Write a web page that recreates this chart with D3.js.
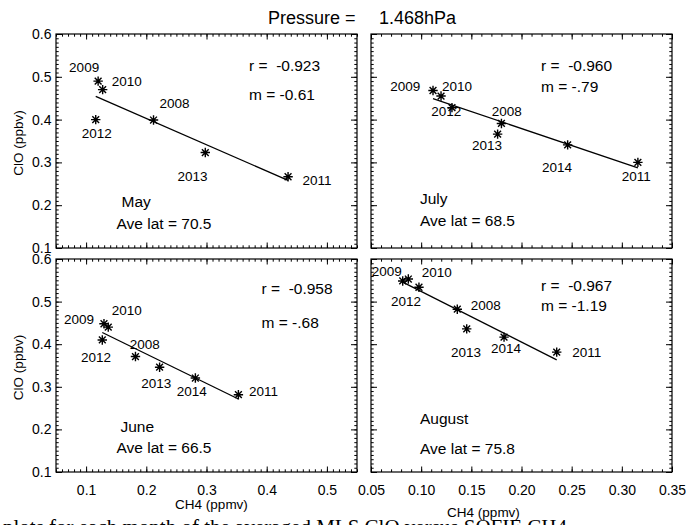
<!DOCTYPE html>
<html><head><meta charset="utf-8">
<script src="https://cdn.jsdelivr.net/npm/d3@7/dist/d3.min.js"></script>
<style>
body{margin:0;background:#fff;overflow:hidden}
svg{display:block}
text{font-family:"Liberation Sans",Arial,Helvetica,sans-serif;fill:#000}
</style>
</head><body>
<svg id="chart" width="686" height="525"></svg>
<script>
// ---------------- data ----------------
const years = ["2008","2009","2010","2011","2012","2013","2014"];

const mayCH4  = [0.212, 0.120, 0.1275, 0.4355, 0.116, 0.298, null];
const mayClO  = [0.399, 0.490, 0.470, 0.2665, 0.400, 0.323, null];

const julyCH4 = [0.180, 0.1118, 0.1198, 0.316, 0.1307, 0.1762, 0.246];
const julyClO = [0.391, 0.468, 0.455, 0.300, 0.428, 0.366, 0.341];

const juneCH4 = [0.182, 0.1297, 0.1368, 0.353, 0.1269, 0.2221, 0.2815];
const juneClO = [0.371, 0.448, 0.440, 0.2815, 0.410, 0.346, 0.3206];

const augCH4  = [0.136, 0.0816, 0.0872, 0.2351, 0.0978, 0.1454, 0.1826];
const augClO  = [0.4822, 0.5485, 0.553, 0.3815, 0.5337, 0.436, 0.4166];

const monthNames = ["May", "July", "June", "August"];
const rValues    = ["-0.923", "-0.960", "-0.958", "-0.967"];
const mValues    = ["-0.61", "-.79", "-.68", "-1.19"];
const aveLat     = ["70.5", "68.5", "66.5", "75.8"];

const yTicks       = [0.1, 0.2, 0.3, 0.4, 0.5, 0.6];
const xTicksLeft   = [0.1, 0.2, 0.3, 0.4, 0.5];
const xTicksRight  = [0.05, 0.10, 0.15, 0.20, 0.25, 0.30, 0.35];

const titleLeft  = "Pressure =";
const titleRight = "1.468hPa";
const yTitle = "ClO (ppbv)";
const xTitle = "CH4 (ppmv)";
const caption = "plots for each month of the averaged MLS ClO versus SOFIE CH4";

// ---------------- layout ----------------
const panels = [
  {ch4: mayCH4, clo: mayClO, xd: [0.05, 0.55], xt: xTicksLeft, xf: ".1f",
   box: [56, 357, 34, 248], yLab: true, xLab: false,
   rPos: [249, 70.5], mPos: [249, 99.5], monPos: [121.5, 207], latPos: [116.5, 229],
   off: [[21,-16.7],[-14,-13.4],[24,-8.3],[29,3],[1,13.3],[-12.7,23.4],[0,0]]},
  {ch4: julyCH4, clo: julyClO, xd: [0.05, 0.35], xt: xTicksRight, xf: ".2f",
   box: [371, 672, 34, 248], yLab: false, xLab: false,
   rPos: [541, 70.5], mPos: [541, 91.5], monPos: [420, 203.5], latPos: [420, 225.5],
   off: [[5.4,-12.3],[-27.7,-4],[16,-9.7],[-1.7,13.4],[-5.7,4],[-10.6,10.7],[-10.6,22.3]]},
  {ch4: juneCH4, clo: juneClO, xd: [0.05, 0.55], xt: xTicksLeft, xf: ".1f",
   box: [56, 357, 259, 472], yLab: true, xLab: true, xTitlePos: [211.5, 509],
   rPos: [261.5, 294], mPos: [261.5, 328], monPos: [120.5, 431.5], latPos: [116.5, 453],
   off: [[9.3,-12.4],[-25,-5],[18.4,-17.3],[25,-3.3],[-6.3,17.7],[-3.3,16],[-3.7,13.4]]},
  {ch4: augCH4, clo: augClO, xd: [0.05, 0.35], xt: xTicksRight, xf: ".2f",
   box: [371, 672, 259, 472], yLab: false, xLab: true, xTitlePos: [483.5, 517],
   rPos: [541, 290.5], mPos: [541, 310.5], monPos: [420, 424], latPos: [420, 454],
   off: [[28.4,-4.3],[-16,-9.3],[28.4,-7.3],[30,0.4],[-13,13.7],[-0.7,23.7],[2,11]]}
];

const svg = d3.select("#chart");

// partially visible caption below the figure (drawn first so chart text sits on top)
svg.append("text").attr("x", 3).attr("y", 534)
  .style("font-family", '"Liberation Serif","Times New Roman",serif').style("font-size", "21px")
  .text(caption);

// title
svg.append("text").attr("x", 268).attr("y", 24).style("font-size", "18px").text(titleLeft);
svg.append("text").attr("x", 379).attr("y", 24).style("font-size", "18px").text(titleRight);

function asterisk(g, cx, cy) {
  const s = 4.7, d = 3.4;
  const p = `M${cx-s},${cy}L${cx+s},${cy}M${cx},${cy-s}L${cx},${cy+s}` +
            `M${cx-d},${cy-d}L${cx+d},${cy+d}M${cx-d},${cy+d}L${cx+d},${cy-d}`;
  g.append("path").attr("d", p).attr("stroke", "#000").attr("stroke-width", 1.4).attr("fill", "none");
}

function minorRange(d0, d1) {
  return d3.range(Math.round(d0 * 100), Math.round(d1 * 100) + 1).map(v => v / 100);
}

panels.forEach((p, i) => {
  const [x0, x1, y0, y1] = p.box;
  const x = d3.scaleLinear().domain(p.xd).range([x0, x1]);
  const y = d3.scaleLinear().domain([0.1, 0.6]).range([y1, y0]);
  const g = svg.append("g");

  const majorLen = 5.5, minorLen = 2.7;
  const xMinor = minorRange(p.xd[0], p.xd[1]);
  const yMinor = minorRange(0.1, 0.6);

  function styleAxis(sel) {
    sel.select(".domain").remove();
    sel.selectAll("line").attr("stroke", "#000").attr("stroke-width", 1);
    sel.selectAll("text").style("font-family", '"Liberation Sans",Arial,sans-serif').attr("fill", "#000");
  }

  // minor ticks
  [[d3.axisBottom(x), y1], [d3.axisTop(x), y0]].forEach(([ax, ty]) => {
    g.append("g").attr("transform", `translate(0,${ty})`)
      .call(ax.tickValues(xMinor).tickSize(-minorLen).tickSizeOuter(0).tickFormat(""))
      .call(styleAxis);
  });
  [[d3.axisLeft(y), x0], [d3.axisRight(y), x1]].forEach(([ax, tx]) => {
    g.append("g").attr("transform", `translate(${tx},0)`)
      .call(ax.tickValues(yMinor).tickSize(-minorLen).tickSizeOuter(0).tickFormat(""))
      .call(styleAxis);
  });

  // major ticks with labels
  const bx = g.append("g").attr("transform", `translate(0,${y1})`)
    .call(d3.axisBottom(x).tickValues(p.xt).tickSize(-majorLen).tickSizeOuter(0)
      .tickPadding(13).tickFormat(p.xLab ? d3.format(p.xf) : ""))
    .call(styleAxis);
  bx.selectAll("text").style("font-size", "14px");
  g.append("g").attr("transform", `translate(0,${y0})`)
    .call(d3.axisTop(x).tickValues(p.xt).tickSize(-majorLen).tickSizeOuter(0).tickFormat(""))
    .call(styleAxis);
  const ly = g.append("g").attr("transform", `translate(${x0},0)`)
    .call(d3.axisLeft(y).tickValues(yTicks).tickSize(-6).tickSizeOuter(0)
      .tickPadding(4.5).tickFormat(p.yLab ? d3.format(".1f") : ""))
    .call(styleAxis);
  ly.selectAll("text").style("font-size", "14px");
  g.append("g").attr("transform", `translate(${x1},0)`)
    .call(d3.axisRight(y).tickValues(yTicks).tickSize(-6).tickSizeOuter(0).tickFormat(""))
    .call(styleAxis);

  // frame
  g.append("rect").attr("x", x0).attr("y", y0).attr("width", x1 - x0).attr("height", y1 - y0)
    .attr("fill", "none").attr("stroke", "#000").attr("stroke-width", 1.2);

  // data
  const pts = years.map((yr, j) => ({yr, cx: p.ch4[j], cy: p.clo[j], off: p.off[j]}))
    .filter(d => d.cx != null && d.cy != null);

  // least-squares fit line over the data range
  const mx = d3.mean(pts, d => d.cx), my = d3.mean(pts, d => d.cy);
  const sxy = d3.sum(pts, d => (d.cx - mx) * (d.cy - my));
  const sxx = d3.sum(pts, d => (d.cx - mx) ** 2);
  const slope = sxy / sxx, icpt = my - slope * mx;
  const [xa, xb] = d3.extent(pts, d => d.cx);
  g.append("line")
    .attr("x1", x(xa)).attr("y1", y(icpt + slope * xa))
    .attr("x2", x(xb)).attr("y2", y(icpt + slope * xb))
    .attr("stroke", "#000").attr("stroke-width", 1.3);

  pts.forEach(d => asterisk(g, x(d.cx), y(d.cy)));

  pts.forEach(d => {
    g.append("text").attr("x", x(d.cx) + d.off[0]).attr("y", y(d.cy) + d.off[1] + 4.8)
      .attr("text-anchor", "middle").style("font-size", "13.5px").text(d.yr);
  });

  const fs = "15.5px";
  g.append("text").attr("x", p.rPos[0]).attr("y", p.rPos[1]).style("font-size", fs)
    .attr("xml:space", "preserve").style("white-space", "pre").text("r =  " + rValues[i]);
  g.append("text").attr("x", p.mPos[0]).attr("y", p.mPos[1]).style("font-size", fs)
    .text("m = " + mValues[i]);
  g.append("text").attr("x", p.monPos[0]).attr("y", p.monPos[1]).style("font-size", fs)
    .text(monthNames[i]);
  g.append("text").attr("x", p.latPos[0]).attr("y", p.latPos[1]).style("font-size", fs)
    .text("Ave lat = " + aveLat[i]);

  if (p.yLab) {
    g.append("text").attr("transform", `translate(23,${(y0 + y1) / 2 + 2}) rotate(-90)`)
      .attr("text-anchor", "middle").style("font-size", "13.5px").text(yTitle);
  }
  if (p.xLab) {
    g.append("text").attr("x", p.xTitlePos[0]).attr("y", p.xTitlePos[1])
      .attr("text-anchor", "middle").style("font-size", "13.5px").text(xTitle);
  }
});
</script>
</body></html>
